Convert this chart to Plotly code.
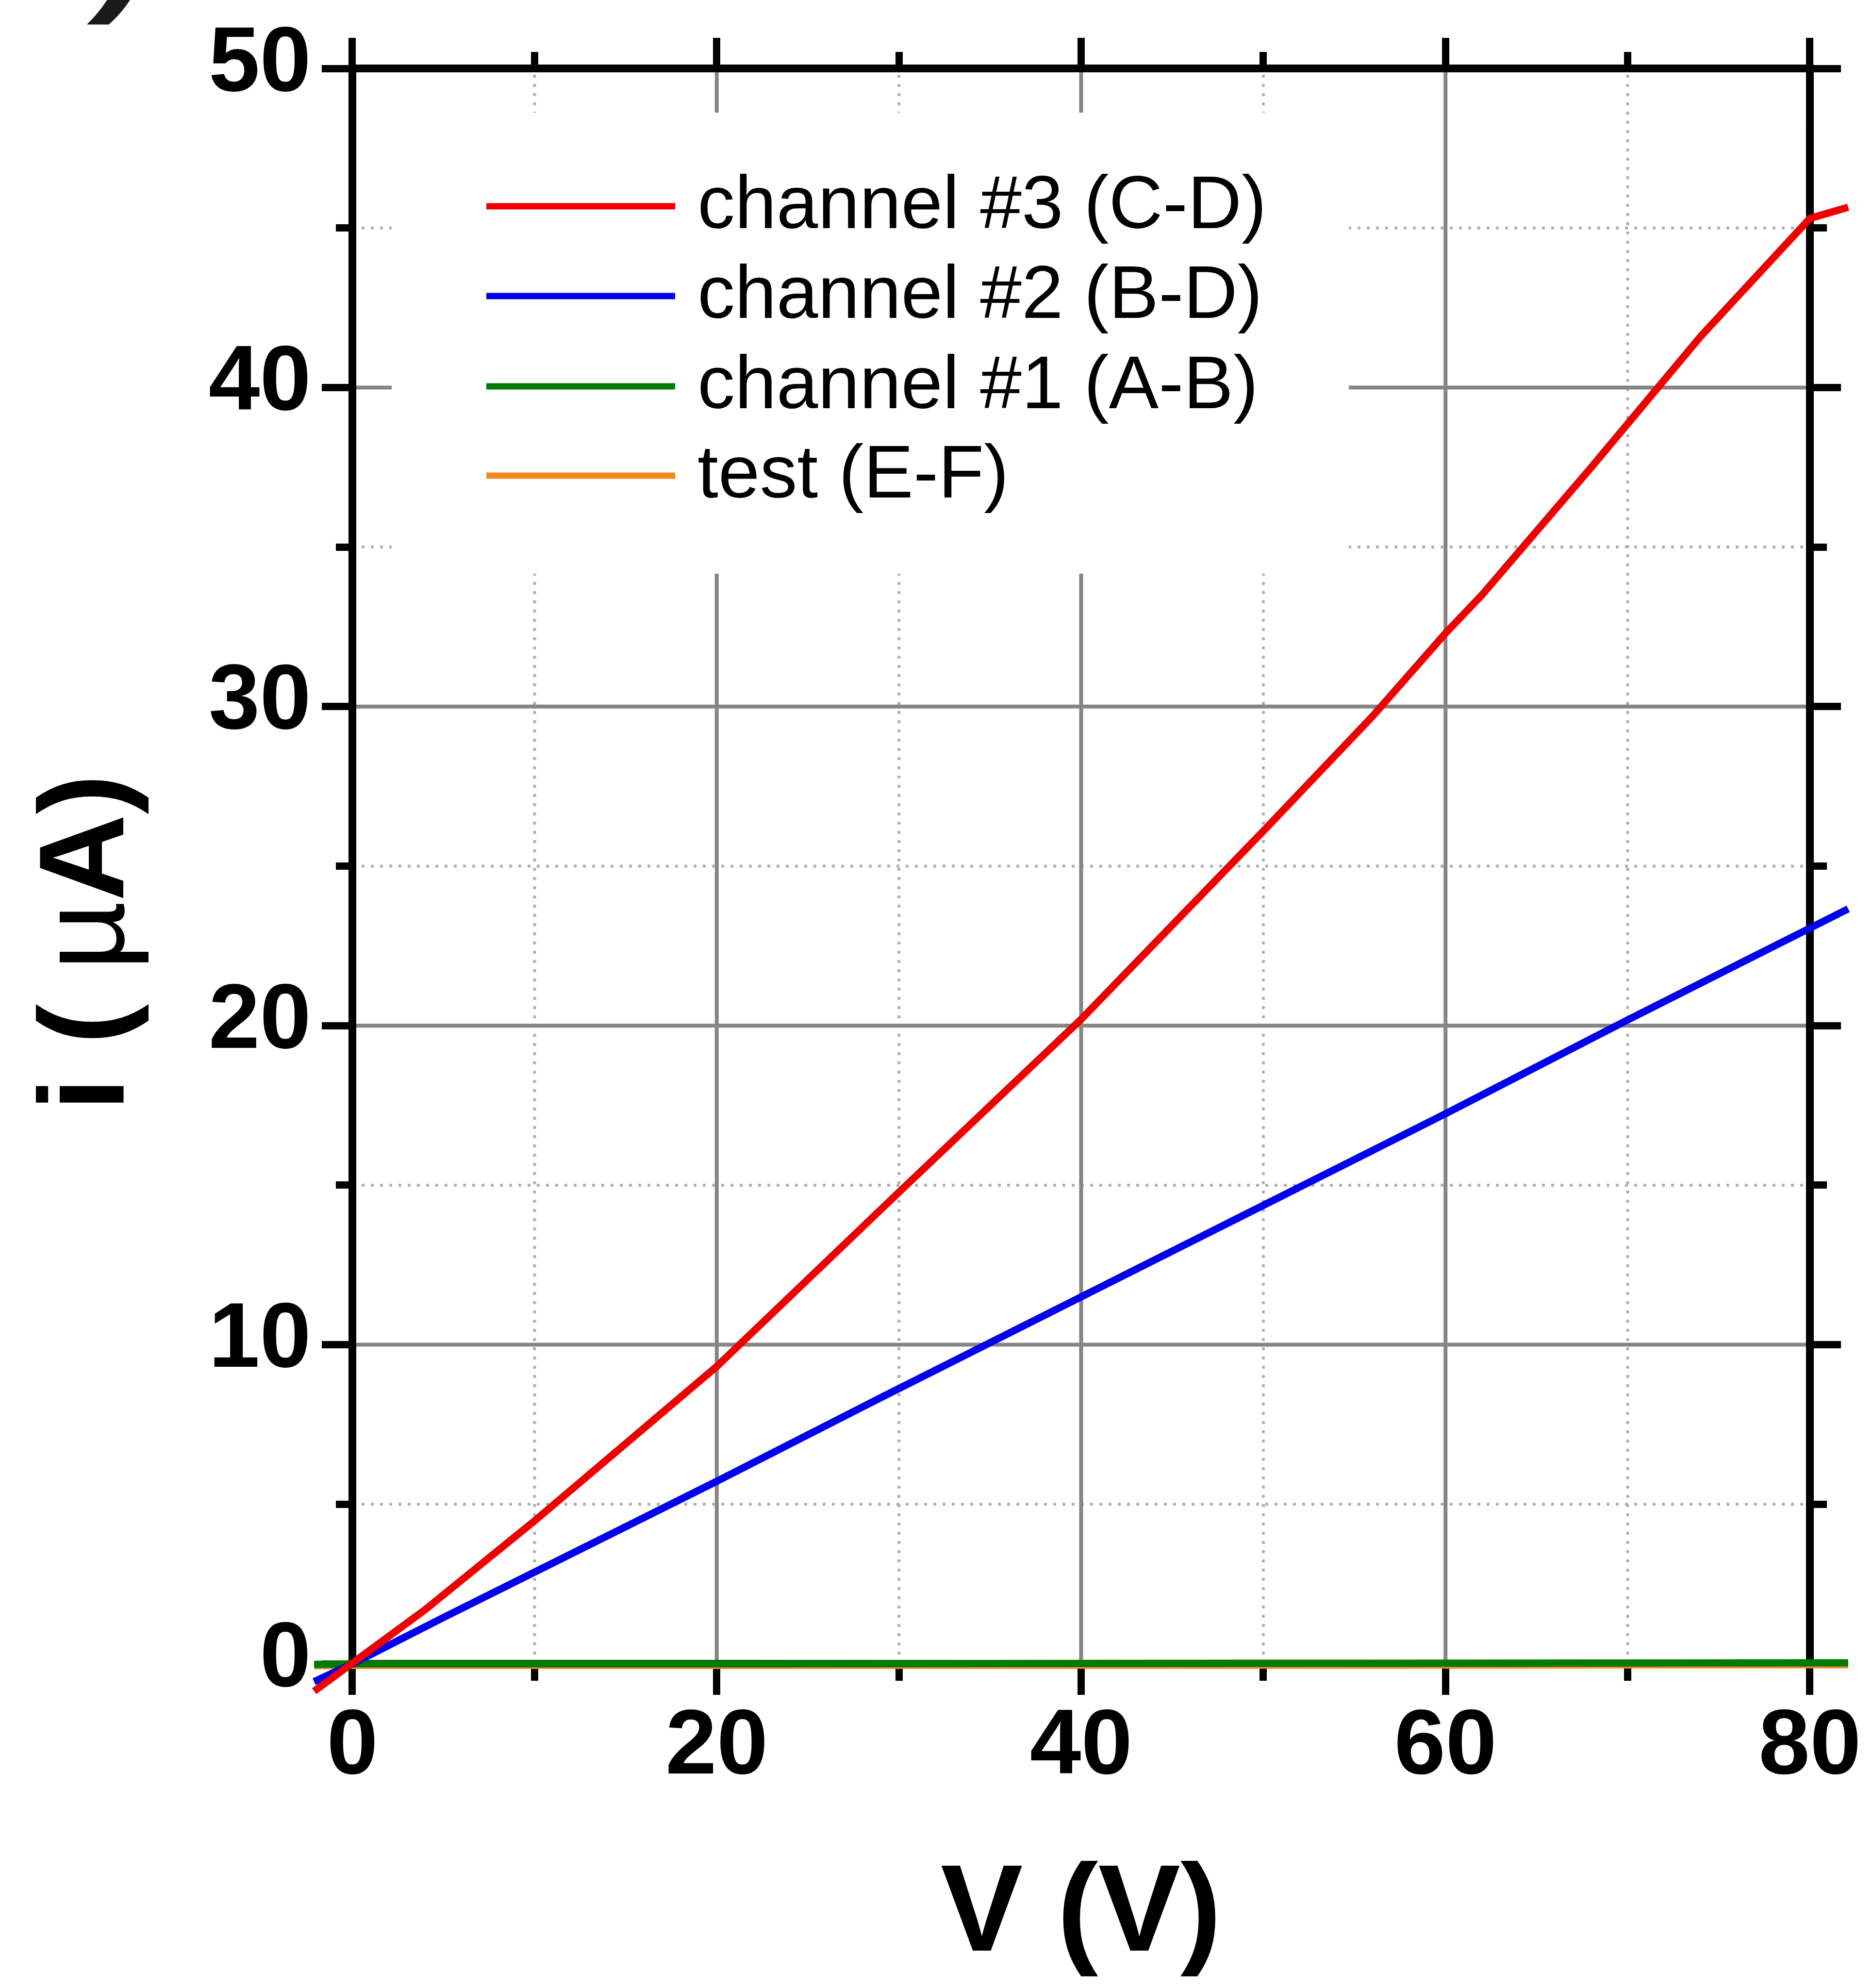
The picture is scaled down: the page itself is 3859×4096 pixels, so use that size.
import plotly.graph_objects as go

# ---------------- data ----------------
v_ch3 = [-2.1, 0, 4, 10, 20, 30, 40, 50, 56, 60, 62, 68, 74, 80, 82.1]
i_ch3 = [-0.86, 0.0, 1.70, 4.48, 9.32, 14.78, 20.2, 26.1, 29.7, 32.3, 33.5, 37.5, 41.6, 45.3, 45.65]

v_ch2 = [-2.1, 0, 5, 10, 20, 29, 40, 50, 55, 60, 70, 74, 76, 80, 82.1]
i_ch2 = [-0.56, 0.0, 1.45, 2.87, 5.72, 8.34, 11.5, 14.4, 15.8, 17.24, 20.18, 21.33, 21.9, 23.1, 23.66]

v_ch1 = [-2.1, 0, 20, 40, 60, 80, 82.1]
i_ch1 = [-0.02, 0.0, 0.0, 0.01, 0.03, 0.03, 0.03]

v_test = [-2.1, 0, 20, 40, 60, 80, 82.1]
i_test = [-0.06, -0.05, -0.05, -0.04, -0.03, -0.03, -0.03]

series_names = ["channel #3 (C-D)", "channel #2 (B-D)", "channel #1 (A-B)", "test (E-F)"]
series_colors = ["#EE0000", "#0000EE", "#007A00", "#F28A1E"]

x_major = [0, 20, 40, 60, 80]
x_minor = [10, 30, 50, 70]
y_major = [0, 10, 20, 30, 40, 50]
y_minor = [5, 15, 25, 35, 45]
x_ticktext = ["0", "20", "40", "60", "80"]
y_ticktext = ["0", "10", "20", "30", "40", "50"]

# ---------------- layout geometry (pixels in output) ----------------
W, H = 3859, 4096
X0, X80 = 726.0, 3729.0     # pixel of V=0 and V=80
Y50, Y0 = 141.0, 3428.0     # pixel (from top) of i=50 and i=0
XR = [-2.5, 82.5]
YR = [-1.3, 50.4]
ppx = (X80 - X0) / 80.0
ppy = (Y0 - Y50) / 50.0

dom_x = [(X0 + XR[0] * ppx) / W, (X0 + XR[1] * ppx) / W]
dom_y = [1 - (Y0 - YR[0] * ppy) / H, 1 - (Y0 - YR[1] * ppy) / H]

def px_x(p):
    return p / W

def px_y(p):
    return 1 - p / H

def dx(p):   # pixel -> data x
    return (p - X0) / ppx

def dy(p):   # pixel -> data y
    return (Y0 - p) / ppy

FONT = "Liberation Sans, Arial, sans-serif"
TICKFONT = dict(family=FONT, size=190, color="black", weight="bold")

fig = go.Figure()

# traces (draw order: test, ch1, ch2, ch3)
order = [3, 2, 1, 0]
xs = [v_ch3, v_ch2, v_ch1, v_test]
ys = [i_ch3, i_ch2, i_ch1, i_test]
for k in order:
    fig.add_trace(go.Scatter(x=xs[k], y=ys[k], mode="lines", name=series_names[k],
                             line=dict(color=series_colors[k], width=15),
                             showlegend=False, hoverinfo="skip"))

# helper trace to realise the top/right axes
fig.add_trace(go.Scatter(x=[None], y=[None], xaxis="x2", yaxis="y2",
                         showlegend=False, hoverinfo="skip"))

common_tick = dict(ticks="outside", ticklen=63, tickwidth=15, tickcolor="black",
                   showgrid=False, zeroline=False, showline=False,
                   layer="below traces")
minor_tick = dict(ticks="outside", ticklen=34, tickwidth=15, tickcolor="black", showgrid=False)

fig.update_layout(
    width=W, height=H,
    margin=dict(l=0, r=0, t=0, b=0, pad=0, autoexpand=False),
    paper_bgcolor="white", plot_bgcolor="white",
    showlegend=False,
    xaxis=dict(domain=dom_x, range=XR, anchor="free", position=px_y(Y0),
               tickmode="array", tickvals=x_major, ticktext=x_ticktext,
               tickfont=TICKFONT, ticklabelstandoff=-66,
               minor=dict(tickmode="array", tickvals=x_minor, **minor_tick),
               **common_tick),
    yaxis=dict(domain=dom_y, range=YR, anchor="free", position=px_x(X0),
               tickmode="array", tickvals=y_major, ticktext=y_ticktext,
               tickfont=TICKFONT, ticklabelstandoff=-16, ticklabelshift=-21,
               minor=dict(tickmode="array", tickvals=y_minor, **minor_tick),
               **common_tick),
    xaxis2=dict(overlaying="x", side="top", range=XR, anchor="free", position=px_y(Y50),
                tickmode="array", tickvals=x_major, showticklabels=False,
                minor=dict(tickmode="array", tickvals=x_minor, **minor_tick),
                **common_tick),
    yaxis2=dict(overlaying="y", side="right", range=YR, anchor="free", position=px_x(X80),
                tickmode="array", tickvals=y_major, showticklabels=False,
                minor=dict(tickmode="array", tickvals=y_minor, **minor_tick),
                **common_tick),
)

shapes = []
MINOR_LINE = dict(color="#B0B0B0", width=6, dash="6px,13px")
MAJOR_LINE = dict(color="#858585", width=8)
# minor (dotted) grid
for v in x_minor:
    shapes.append(dict(type="line", xref="x", yref="y", x0=v, x1=v, y0=0, y1=50,
                       line=MINOR_LINE, layer="below"))
for v in y_minor:
    shapes.append(dict(type="line", xref="x", yref="y", x0=0, x1=80, y0=v, y1=v,
                       line=MINOR_LINE, layer="below"))
# major grid
for v in x_major[1:-1]:
    shapes.append(dict(type="line", xref="x", yref="y", x0=v, x1=v, y0=0, y1=50,
                       line=MAJOR_LINE, layer="below"))
for v in y_major[1:-1]:
    shapes.append(dict(type="line", xref="x", yref="y", x0=0, x1=80, y0=v, y1=v,
                       line=MAJOR_LINE, layer="below"))
# white legend background (same layer as the grid, drawn after it)
shapes.append(dict(type="rect", xref="x", yref="y",
                   x0=dx(807), x1=dx(2779), y0=dy(1182), y1=dy(232),
                   fillcolor="white", line=dict(width=0), layer="below"))
# frame
shapes.append(dict(type="rect", xref="x", yref="y", x0=0, x1=80, y0=0, y1=50,
                   line=dict(color="black", width=16), fillcolor="rgba(0,0,0,0)", layer="below"))

# manual legend
LEG_X = (1002, 1391)
LEG_Y = [425, 610, 796, 980]
LEG_TEXT_X = 1435
annotations = []
for k in range(4):
    shapes.append(dict(type="line", xref="paper", yref="paper",
                       x0=px_x(LEG_X[0]), x1=px_x(LEG_X[1]),
                       y0=px_y(LEG_Y[k]), y1=px_y(LEG_Y[k]),
                       line=dict(color=series_colors[k], width=13), layer="above"))
    annotations.append(dict(xref="paper", yref="paper", x=px_x(LEG_TEXT_X), y=px_y(LEG_Y[k] - 8),
                            xanchor="left", yanchor="middle", showarrow=False,
                            text=series_names[k],
                            font=dict(family=FONT, size=154, color="black")))

# axis titles
annotations.append(dict(xref="x", yref="paper", x=40, y=px_y(3931), xanchor="center", yanchor="middle",
                        showarrow=False, text="<b>V (V)</b>",
                        font=dict(family=FONT, size=254, color="black")))
annotations.append(dict(xref="paper", yref="paper", x=px_x(168), y=px_y(1942), xanchor="center",
                        yanchor="middle", showarrow=False, textangle=-90,
                        text="<b>i (</b> \u00b5<b>A)</b>",
                        font=dict(family=FONT, size=248, color="black")))
# cropped panel-label fragment at the top-left corner
annotations.append(dict(xref="paper", yref="paper", x=px_x(175), y=px_y(56), xanchor="left",
                        yanchor="bottom", showarrow=False, text=")",
                        font=dict(family=FONT, size=330, color="#1a1a1a",
                                  weight="bold", style="italic")))

fig.update_layout(shapes=shapes, annotations=annotations)
fig.write_html("out.html")
